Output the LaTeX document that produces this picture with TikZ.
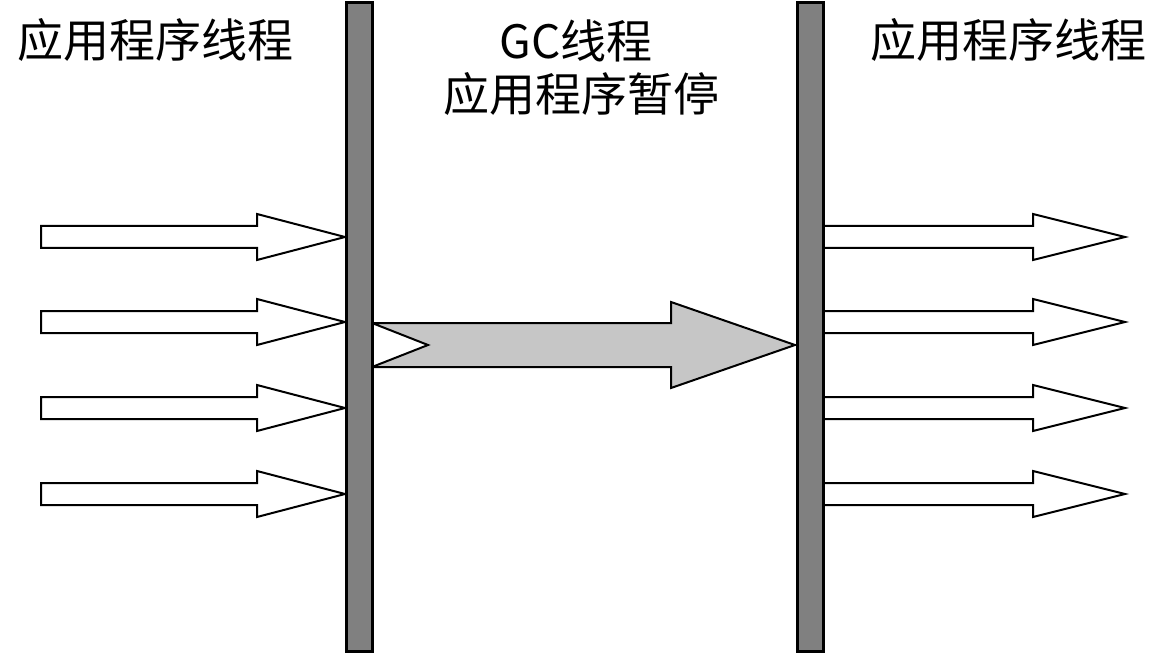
\documentclass[tikz,border=0pt]{standalone}
\usepackage{fontspec}
\newfontfamily\cjk{Noto Sans CJK SC}
\begin{document}
\begin{tikzpicture}[x=1pt,y=-1pt,
  barbox/.style={draw=black,line width=3pt,fill=gray,minimum width=26pt,minimum height=648pt,inner sep=0pt},
  hollowarrow/.style={draw=black,line width=2pt,fill=white,line join=miter},
  gcarrow/.style={draw=black,line width=2pt,fill=gray!45,line join=miter},
  label/.style={font=\cjk\fontsize{46}{52}\selectfont,inner sep=0pt,text height=0.84em,text depth=0.1em}]
\useasboundingbox (0,0) rectangle (1156,660);
% left incoming application-thread arrows
\foreach \y in {237,322,408,494}{
  \draw[hollowarrow] (41,\y-11) -- (257,\y-11) -- (257,\y-23) -- (345,\y) -- (257,\y+23) -- (257,\y+11) -- (41,\y+11) -- cycle;
}
% right outgoing application-thread arrows
\foreach \y in {237,322,408,494}{
  \draw[hollowarrow] (822,\y-11) -- (1033,\y-11) -- (1033,\y-23) -- (1125,\y) -- (1033,\y+23) -- (1033,\y+11) -- (822,\y+11) -- cycle;
}
% GC thread arrow (notched tail)
\draw[gcarrow] (372,323) -- (671,323) -- (671,302) -- (795,345) -- (671,388) -- (671,367) -- (372,367) -- (428,345) -- cycle;
% safepoint bars
\node[barbox] (barL) at (359,327) {};
\node[barbox] (barR) at (810,327) {};
% labels
\node[label] (appL) at (155,54) {应用程序线程};
\node[label] (appR) at (1008,54) {应用程序线程};
\node[label] (gc) at (576,55) {GC线程};
\node[label] (pause) at (581,108) {应用程序暂停};
\end{tikzpicture}
\end{document}
